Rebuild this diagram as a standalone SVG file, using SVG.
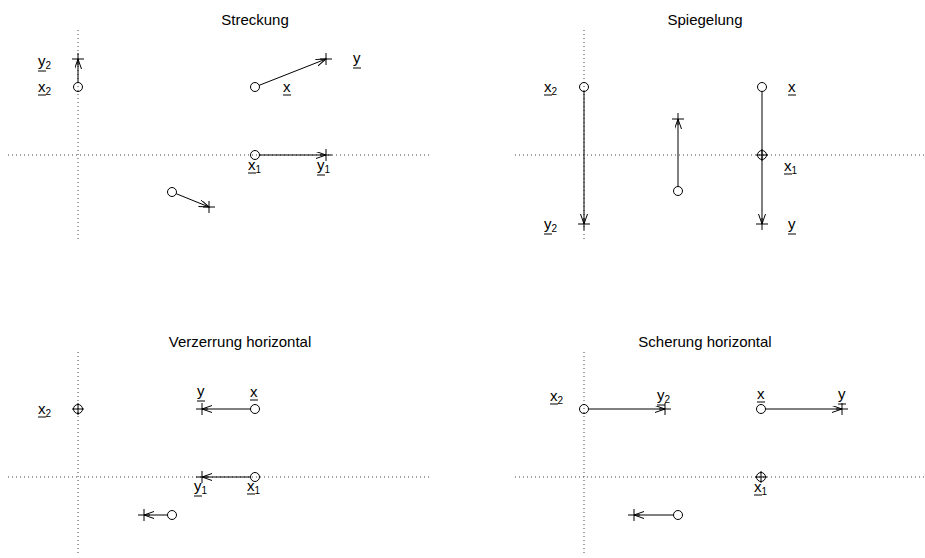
<svg xmlns="http://www.w3.org/2000/svg" width="925" height="558" viewBox="0 0 925 558">
<defs>
<style>
.ax{stroke:#444;stroke-width:1;stroke-dasharray:1 3;fill:none}
.c{fill:none;stroke:#000;stroke-width:1}
.k{stroke:#000;stroke-width:1;fill:none}
.ln{stroke:#000;stroke-width:1;fill:none;marker-end:url(#ah)}
.t{font-family:"Liberation Sans",Arial,sans-serif;font-size:15px;fill:#000;text-anchor:middle}
.l{font-family:"Liberation Sans",Arial,sans-serif;font-size:15px;fill:#000}
.s{font-size:10px}
.u{stroke:#000;stroke-width:1}
</style>
<marker id="ah" markerWidth="12" markerHeight="8" refX="10" refY="3.5" orient="auto" markerUnits="userSpaceOnUse"><path d="M0,0 L10,3.5 L0,7" fill="none" stroke="#000" stroke-width="1"/></marker>
<g id="cross"><path d="M-6,0 H6 M0,-6 V6"/></g>
</defs>
<rect width="925" height="558" fill="#fff"/>

<g id="axes">
<line class="ax" x1="78" y1="30" x2="78" y2="240"/>
<line class="ax" x1="8" y1="155" x2="430" y2="155"/>
<line class="ax" x1="584" y1="30" x2="584" y2="240"/>
<line class="ax" x1="515" y1="155" x2="925" y2="155"/>
<line class="ax" x1="78" y1="352" x2="78" y2="555"/>
<line class="ax" x1="8" y1="477" x2="430" y2="477"/>
<line class="ax" x1="584" y1="352" x2="584" y2="555"/>
<line class="ax" x1="515" y1="477" x2="925" y2="477"/>
</g>

<g id="titles">
<text class="t" x="255" y="25">Streckung</text>
<text class="t" x="705" y="25">Spiegelung</text>
<text class="t" x="240" y="347">Verzerrung horizontal</text>
<text class="t" x="705" y="347">Scherung horizontal</text>
</g>

<g id="connectors">
<line class="ln" x1="78" y1="82.5" x2="78" y2="59"/>
<line class="ln" x1="259.2" y1="85.3" x2="326" y2="59"/>
<line class="ln" x1="259.5" y1="155" x2="326" y2="155"/>
<line class="ln" x1="176.2" y1="193.7" x2="209" y2="207"/>
<line class="ln" x1="584" y1="91.5" x2="584" y2="224"/>
<line class="ln" x1="678" y1="186.5" x2="678" y2="119"/>
<line class="ln" x1="762" y1="91.5" x2="762" y2="224"/>
<line class="ln" x1="250.5" y1="409" x2="202" y2="409"/>
<line class="ln" x1="250.5" y1="477" x2="202" y2="477"/>
<line class="ln" x1="167.5" y1="515" x2="144" y2="515"/>
<line class="ln" x1="588.5" y1="409" x2="665" y2="409"/>
<line class="ln" x1="765.5" y1="409" x2="842" y2="409"/>
<line class="ln" x1="673.5" y1="515" x2="634" y2="515"/>
</g>

<!-- Panel 1: Streckung -->
<g id="p1-x2"><circle class="c" cx="78" cy="87" r="4.5"/><text class="l" x="38" y="92">x<tspan class="s" dy="3">2</tspan></text><line class="u" x1="38" y1="95" x2="46" y2="95"/></g>
<g id="p1-y2"><use href="#cross" class="k" x="78" y="59"/><text class="l" x="38" y="66">y<tspan class="s" dy="3">2</tspan></text><line class="u" x1="38" y1="71" x2="46" y2="71"/></g>
<g id="p1-x"><circle class="c" cx="255" cy="87" r="4.5"/><text class="l" x="283" y="92">x</text><line class="u" x1="283" y1="95" x2="291" y2="95"/></g>
<g id="p1-y"><use href="#cross" class="k" x="326" y="59"/><text class="l" x="353" y="63">y</text><line class="u" x1="353" y1="68" x2="361" y2="68"/></g>
<g id="p1-x1"><circle class="c" cx="255" cy="155" r="4.5"/><text class="l" x="248" y="170">x<tspan class="s" dy="3">1</tspan></text><line class="u" x1="248" y1="173" x2="256" y2="173"/></g>
<g id="p1-y1"><use href="#cross" class="k" x="326" y="155"/><text class="l" x="317" y="170">y<tspan class="s" dy="3">1</tspan></text><line class="u" x1="317" y1="175" x2="325" y2="175"/></g>
<g id="p1-s"><circle class="c" cx="172" cy="192" r="4.5"/></g>
<g id="p1-sy"><use href="#cross" class="k" x="209" y="207"/></g>

<!-- Panel 2: Spiegelung -->
<g id="p2-x2"><circle class="c" cx="584" cy="87" r="4.5"/><text class="l" x="544" y="92">x<tspan class="s" dy="3">2</tspan></text><line class="u" x1="544" y1="95" x2="552" y2="95"/></g>
<g id="p2-y2"><use href="#cross" class="k" x="584" y="224"/><text class="l" x="544" y="229">y<tspan class="s" dy="3">2</tspan></text><line class="u" x1="544" y1="234" x2="552" y2="234"/></g>
<g id="p2-m"><circle class="c" cx="678" cy="191" r="4.5"/></g>
<g id="p2-my"><use href="#cross" class="k" x="678" y="119"/></g>
<g id="p2-x"><circle class="c" cx="762" cy="87" r="4.5"/><text class="l" x="788" y="92">x</text><line class="u" x1="788" y1="95" x2="796" y2="95"/></g>
<g id="p2-x1"><circle class="c" cx="762" cy="155" r="4.5"/><use href="#cross" class="k" x="762" y="155"/><text class="l" x="784" y="171">x<tspan class="s" dy="3">1</tspan></text><line class="u" x1="784" y1="174" x2="792" y2="174"/></g>
<g id="p2-y"><use href="#cross" class="k" x="762" y="224"/><text class="l" x="788" y="229">y</text><line class="u" x1="788" y1="234" x2="796" y2="234"/></g>

<!-- Panel 3: Verzerrung horizontal -->
<g id="p3-x2"><circle class="c" cx="78" cy="409" r="4.5"/><use href="#cross" class="k" x="78" y="409"/><text class="l" x="38" y="414">x<tspan class="s" dy="3">2</tspan></text><line class="u" x1="38" y1="417" x2="46" y2="417"/></g>
<g id="p3-x"><circle class="c" cx="255" cy="409" r="4.5"/><text class="l" x="250" y="397">x</text><line class="u" x1="250" y1="400" x2="258" y2="400"/></g>
<g id="p3-y"><use href="#cross" class="k" x="202" y="409"/><text class="l" x="197" y="396">y</text><line class="u" x1="197" y1="401" x2="205" y2="401"/></g>
<g id="p3-x1"><circle class="c" cx="255" cy="477" r="4.5"/><text class="l" x="247" y="491">x<tspan class="s" dy="3">1</tspan></text><line class="u" x1="247" y1="494" x2="255" y2="494"/></g>
<g id="p3-y1"><use href="#cross" class="k" x="202" y="477"/><text class="l" x="194" y="491">y<tspan class="s" dy="3">1</tspan></text><line class="u" x1="194" y1="496" x2="202" y2="496"/></g>
<g id="p3-s"><circle class="c" cx="172" cy="515" r="4.5"/></g>
<g id="p3-sy"><use href="#cross" class="k" x="144" y="515"/></g>

<!-- Panel 4: Scherung horizontal -->
<g id="p4-x2"><circle class="c" cx="584" cy="409" r="4.5"/><text class="l" x="550" y="401">x<tspan class="s" dy="3">2</tspan></text><line class="u" x1="550" y1="404" x2="558" y2="404"/></g>
<g id="p4-y2"><use href="#cross" class="k" x="665" y="409"/><text class="l" x="657" y="400">y<tspan class="s" dy="3">2</tspan></text><line class="u" x1="657" y1="405" x2="665" y2="405"/></g>
<g id="p4-x"><circle class="c" cx="761" cy="409" r="4.5"/><text class="l" x="757" y="399">x</text><line class="u" x1="757" y1="402" x2="765" y2="402"/></g>
<g id="p4-y"><use href="#cross" class="k" x="842" y="409"/><text class="l" x="838" y="399">y</text><line class="u" x1="838" y1="404" x2="846" y2="404"/></g>
<g id="p4-x1"><circle class="c" cx="761" cy="477" r="4.5"/><use href="#cross" class="k" x="761" y="477"/><text class="l" x="754" y="492">x<tspan class="s" dy="3">1</tspan></text><line class="u" x1="754" y1="495" x2="762" y2="495"/></g>
<g id="p4-s"><circle class="c" cx="678" cy="515" r="4.5"/></g>
<g id="p4-sy"><use href="#cross" class="k" x="634" y="515"/></g>
</svg>
